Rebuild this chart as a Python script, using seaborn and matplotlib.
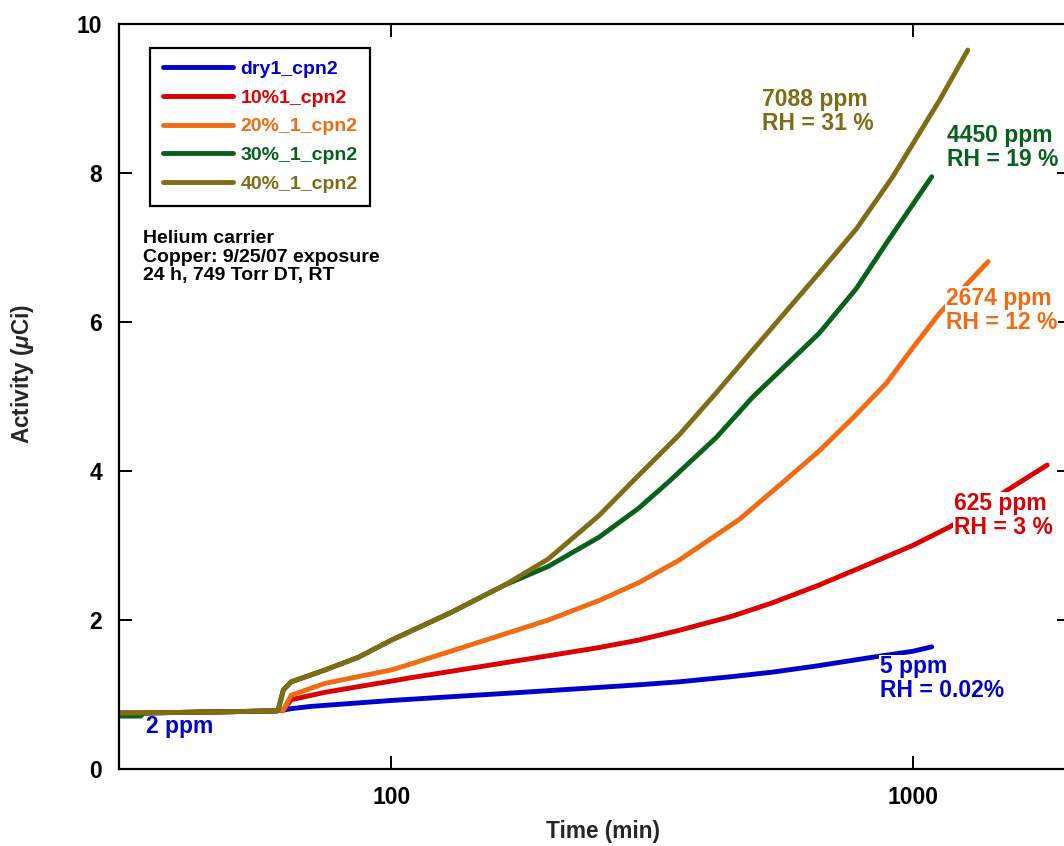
import numpy as np
import pandas as pd
import matplotlib
matplotlib.use("Agg")
import matplotlib.pyplot as plt
import seaborn as sns

# ---------------- data ----------------
series_names = ["dry1_cpn2", "10%1_cpn2", "20%_1_cpn2", "30%_1_cpn2", "40%_1_cpn2"]

dry_x = [30, 40, 50, 60, 62, 64.2, 70, 80, 100, 130, 170, 220, 298, 356, 450, 538, 650, 837, 1000, 1088]
dry_y = [0.75, 0.76, 0.77, 0.78, 0.79, 0.81, 0.84, 0.87, 0.92, 0.97, 1.02, 1.07, 1.13, 1.17, 1.24, 1.30, 1.38, 1.50, 1.58, 1.64]

rh10_x = [30, 40, 50, 60, 62, 64.2, 74.6, 100, 107.8, 150, 200, 250, 298, 356, 450, 538, 662, 837, 1000, 1178, 1350, 1517, 1812]
rh10_y = [0.75, 0.76, 0.77, 0.78, 0.79, 0.93, 1.03, 1.18, 1.22, 1.38, 1.52, 1.63, 1.73, 1.86, 2.05, 2.23, 2.47, 2.77, 3.00, 3.25, 3.50, 3.74, 4.08]

rh20_x = [30, 40, 50, 60, 62, 64.2, 74.6, 100, 107.8, 150, 200, 250, 298, 356, 465, 562, 662, 770, 891, 1000, 1127, 1396]
rh20_y = [0.75, 0.76, 0.77, 0.78, 0.79, 0.99, 1.15, 1.33, 1.40, 1.72, 2.00, 2.26, 2.50, 2.80, 3.35, 3.84, 4.27, 4.72, 5.18, 5.65, 6.12, 6.81]

rh30_x = [30, 33, 33.5, 40, 50, 60, 60.6, 62, 64.2, 74.6, 86.4, 100, 130, 165, 200, 250, 298, 341, 420, 493, 662, 780, 891, 1088]
rh30_y = [0.71, 0.71, 0.75, 0.76, 0.77, 0.78, 0.79, 1.06, 1.17, 1.33, 1.50, 1.73, 2.10, 2.47, 2.72, 3.11, 3.50, 3.86, 4.45, 4.99, 5.85, 6.45, 7.06, 7.95]

rh40_x = [30, 40, 50, 60, 60.6, 62, 64.2, 74.6, 86.4, 100, 130, 165, 200, 250, 294, 356, 420, 493, 662, 780, 916, 1127, 1276]
rh40_y = [0.75, 0.76, 0.77, 0.78, 0.79, 1.06, 1.17, 1.33, 1.50, 1.73, 2.10, 2.47, 2.82, 3.40, 3.90, 4.48, 5.05, 5.62, 6.66, 7.25, 7.95, 8.98, 9.65]

colors = ["#0000CC", "#DD0000", "#F26B12", "#06611B", "#7F6C14"]

label_texts = ["5 ppm\nRH = 0.02%", "625 ppm\nRH = 3 %", "2674 ppm\nRH = 12 %",
               "4450 ppm\nRH = 19 %", "7088 ppm\nRH = 31 %"]
label_x = [864, 1200, 1158, 1166, 515]
label_y = [1.21, 3.40, 6.16, 8.34, 8.83]

start_label = "2 ppm"
note_text = "Helium carrier\nCopper: 9/25/07 exposure\n24 h, 749 Torr DT, RT"

xs = [dry_x, rh10_x, rh20_x, rh30_x, rh40_x]
ys = [dry_y, rh10_y, rh20_y, rh30_y, rh40_y]

frames = []
for name, x, y in zip(series_names, xs, ys):
    frames.append(pd.DataFrame({"Time": x, "Activity": y, "series": name}))
df = pd.concat(frames, ignore_index=True)

# ---------------- style ----------------
sns.set_style("ticks")
plt.rcParams["font.family"] = ["Liberation Sans", "DejaVu Sans"]
plt.rcParams["font.weight"] = "bold"
plt.rcParams["mathtext.fontset"] = "custom"
plt.rcParams["mathtext.rm"] = "Liberation Sans:bold"
plt.rcParams["mathtext.it"] = "Liberation Sans:bold:italic"

fig = plt.figure(figsize=(10.64, 8.46), dpi=100)
ax = fig.add_axes([119 / 1064, 1 - 769 / 846, (1069.5 - 119) / 1064, (769 - 24) / 846])

for name, col in zip(series_names, colors):
    sub = df[df["series"] == name]
    sns.lineplot(data=sub, x="Time", y="Activity", ax=ax, color=col, lw=3.5,
                 sort=False, estimator=None, label=name)

ax.set_xscale("log")
ax.set_xlim(30, 2000)
ax.set_ylim(0, 10)
ax.set_xticks([100, 1000])
ax.set_xticklabels(["100", "1000"])
ax.xaxis.set_minor_locator(matplotlib.ticker.NullLocator())
ax.set_yticks([0, 2, 4, 6, 8, 10])

for s in ax.spines.values():
    s.set_visible(True)
    s.set_linewidth(1.6)
    s.set_color("black")

ax.tick_params(which="major", direction="in", length=9.5, width=1.4,
               top=True, right=True, labelsize=16.5, pad=12, colors="black")
for lab in ax.get_xticklabels() + ax.get_yticklabels():
    lab.set_fontweight("bold")

ax.set_xlabel("Time (min)", fontsize=16.3, fontweight="bold")
ax.set_ylabel(r"Activity ($\mathit{\mu}$Ci)", fontsize=16.3, fontweight="bold")
ax.xaxis.set_label_coords(0.509, -0.0685)
ax.yaxis.set_label_coords(-0.0875, 0.53)

# legend
leg = ax.legend(loc="upper left", bbox_to_anchor=(0.0326, 0.968), fontsize=14,
                frameon=True, fancybox=False, edgecolor="black", framealpha=1,
                handlelength=3.6, handletextpad=0.4, labelspacing=0.57,
                borderpad=0.65, borderaxespad=0, labelcolor="linecolor")
leg.get_frame().set_linewidth(1.6)
for t in leg.get_texts():
    t.set_fontweight("bold")
for h in leg.get_lines():
    h.set_linewidth(3.5)

# curve labels
for txt, lx, ly, col in zip(label_texts, label_x, label_y, colors):
    ax.text(lx, ly, txt, color=col, fontsize=16.5, fontweight="bold",
            ha="left", va="center", linespacing=1.05, zorder=6,
            bbox=dict(facecolor="white", edgecolor="none", pad=0.5))

ax.text(33.8, 0.57, start_label, color=colors[0], fontsize=16.5, fontweight="bold",
        ha="left", va="center", zorder=6)
ax.text(33.4, 6.87, note_text, color="black", fontsize=14, fontweight="bold",
        ha="left", va="center", linespacing=1.12, zorder=6)

fig.savefig("out.png", dpi=100)
